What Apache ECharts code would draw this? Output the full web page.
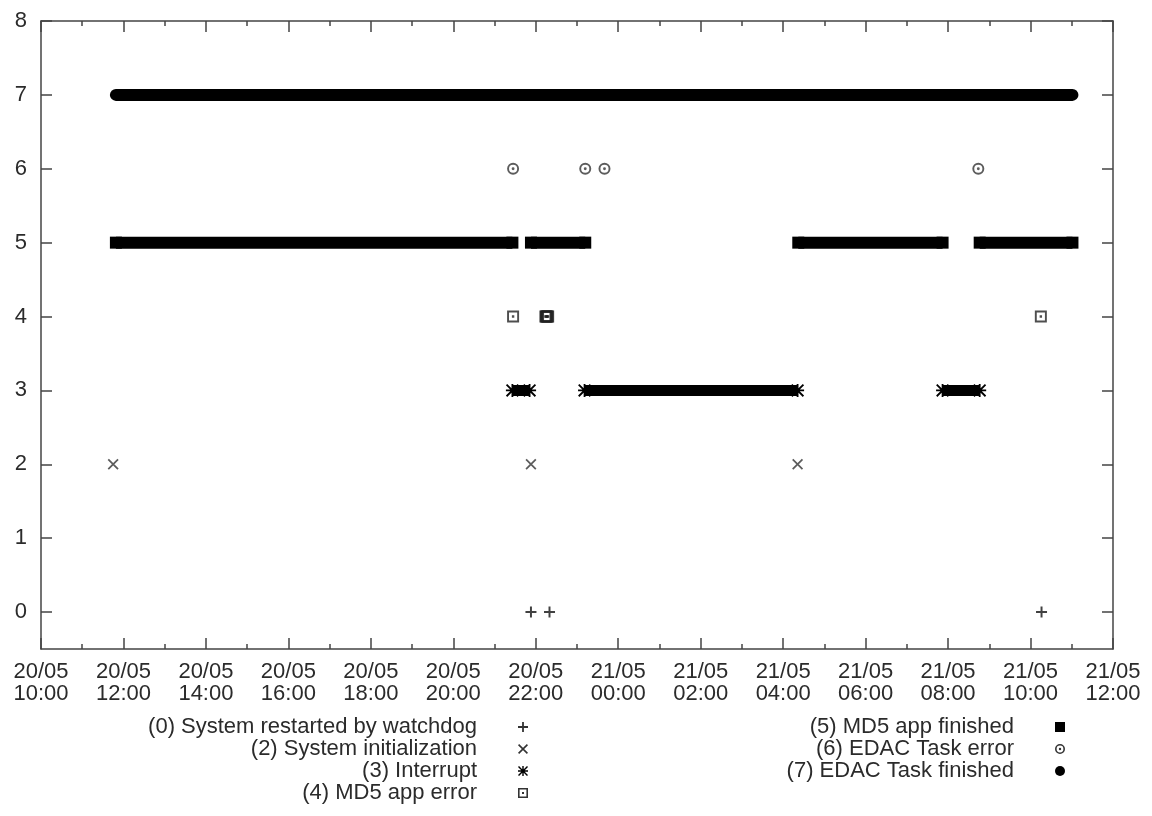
<!DOCTYPE html>
<html>
<head>
<meta charset="utf-8">
<script src="https://cdn.jsdelivr.net/npm/echarts@6/dist/echarts.min.js"></script>
<style>
html,body{margin:0;padding:0;background:#fff;}
#chart{width:1152px;height:816px;}
</style>
</head>
<body>
<div id="chart"></div>
<script>
// ---- data ----
const xStart = '20/05 10:00';
const xEnd = '21/05 12:00';
const yTickValues = [0, 1, 2, 3, 4, 5, 6, 7, 8];

const restartTimes = ['20/05 21:53', '20/05 22:20', '21/05 10:16'];                 // code 0
const initTimes = ['20/05 11:45', '20/05 21:53', '21/05 04:21'];                    // code 2
const interruptSpans = [['20/05 21:26', '20/05 21:51'], ['20/05 23:11', '21/05 04:21'], ['21/05 07:52', '21/05 08:46']]; // code 3
const md5ErrorTimes = ['20/05 21:27', '20/05 22:14', '20/05 22:15', '20/05 22:16', '20/05 22:17', '20/05 22:18', '21/05 10:15']; // code 4
const md5FinishedSpans = [['20/05 11:49', '20/05 21:26'], ['20/05 21:53', '20/05 23:12'], ['21/05 04:22', '21/05 07:52'], ['21/05 08:46', '21/05 11:01']]; // code 5
const edacErrorTimes = ['20/05 21:27', '20/05 23:12', '20/05 23:40', '21/05 08:44']; // code 6
const edacFinishedSpans = [['20/05 11:49', '21/05 11:01']];                          // code 7

const seriesNames = [
  '(0) System restarted by watchdog',
  '(2) System initialization',
  '(3) Interrupt',
  '(4) MD5 app error',
  '(5) MD5 app finished',
  '(6) EDAC Task error',
  '(7) EDAC Task finished'
];
const seriesCodes = [0, 2, 3, 4, 5, 6, 7];

// ---- helpers ----
function T(s) {
  const parts = s.split(' ');
  const dm = parts[0].split('/').map(Number);
  const hm = parts[1].split(':').map(Number);
  return Date.UTC(2009, dm[1] - 1, dm[0], hm[0], hm[1]);
}
function points(times, code) { return times.map(t => [T(t), code]); }
function spans(list, code) {
  const out = [];
  list.forEach(function (s, i) {
    if (i > 0) out.push([T(s[0]), '-']);
    out.push([T(s[0]), code]);
    out.push([T(s[1]), code]);
  });
  return out;
}
function pad(n) { return (n < 10 ? '0' : '') + n; }
function fmtTime(v) {
  const d = new Date(v);
  return pad(d.getUTCDate()) + '/' + pad(d.getUTCMonth() + 1) + '\n' + pad(d.getUTCHours()) + ':' + pad(d.getUTCMinutes());
}

// gnuplot-like point shapes (filled paths, 10x10 box)
const PLUS = 'path://M4.1,0H5.9V4.1H10V5.9H5.9V10H4.1V5.9H0V4.1H4.1Z';
const CROSS = 'path://M1.13,0L10,8.87L8.87,10L0,1.13Z M8.87,0L10,1.13L1.13,10L0,8.87Z';
const STAR = 'path://M4.3,0H5.7V4.3H10V5.7H5.7V10H4.3V5.7H0V4.3H4.3Z M1,0L10,9L9,10L0,1Z M9,0L10,1L1,10L0,9Z';
const BOXDOT = 'path://M0,0H10V10H0Z M1.6,1.6V8.4H8.4V1.6Z M4,4H6V6H4Z';
const SQUARE = 'path://M0,0H10V10H0Z';
const CIRCDOT = 'path://M5,0A5,5,0,1,1,5,10A5,5,0,1,1,5,0Z M5,1.6A3.4,3.4,0,1,0,5,8.4A3.4,3.4,0,1,0,5,1.6Z M5,3.8A1.2,1.2,0,1,1,5,6.2A1.2,1.2,0,1,1,5,3.8Z';
const DISC = 'path://M5,0A5,5,0,1,1,5,10A5,5,0,1,1,5,0Z';

const FONT = '"Liberation Sans", Arial, Helvetica, sans-serif';
const AXIS_COLOR = '#444';
const TEXT_COLOR = '#2b2b2b';

const chart = echarts.init(document.getElementById('chart'), null, {renderer: 'canvas'});

const xMin = T(xStart), xMax = T(xEnd);
const HOUR2 = 2 * 3600 * 1000;

function xAxisCfg(pos, showLabel) {
  return {
    type: 'value', position: pos, min: xMin, max: xMax, interval: HOUR2,
    axisLine: {show: true, onZero: false, lineStyle: {color: AXIS_COLOR, width: 1.5}},
    axisTick: {show: true, inside: true, length: 11, lineStyle: {color: AXIS_COLOR, width: 1.5}},
    minorTick: {show: true, splitNumber: 2, length: 5, lineStyle: {color: AXIS_COLOR, width: 1.5}},
    splitLine: {show: false},
    minorSplitLine: {show: false},
    axisLabel: {show: showLabel, formatter: fmtTime, fontSize: 22, lineHeight: 22, color: TEXT_COLOR, margin: 12, fontFamily: FONT}
  };
}
function yAxisCfg(pos, showLabel) {
  return {
    type: 'value', position: pos, min: -0.5, max: 8,
    axisLine: {show: true, onZero: false, lineStyle: {color: AXIS_COLOR, width: 1.5}},
    axisTick: {show: true, inside: true, length: 11, customValues: yTickValues, lineStyle: {color: AXIS_COLOR, width: 1.5}},
    splitLine: {show: false},
    axisLabel: {show: showLabel, customValues: yTickValues, fontSize: 22, color: TEXT_COLOR, margin: 14, fontFamily: FONT}
  };
}

const legendCommon = {
  orient: 'vertical', align: 'right', itemWidth: 82, itemHeight: 10, itemGap: 0,
  padding: 0, selectedMode: false, symbolKeepAspect: true,
  itemStyle: {color: '#000', borderWidth: 0},
  textStyle: {fontSize: 22, lineHeight: 22, color: TEXT_COLOR, fontFamily: FONT}
};

const option = {
  animation: false,
  backgroundColor: '#fff',
  grid: {left: 41, right: 39, top: 21, bottom: 167, outerBoundsMode: 'none'},
  xAxis: [xAxisCfg('bottom', true), xAxisCfg('top', false)],
  yAxis: [yAxisCfg('left', true), yAxisCfg('right', false)],
  legend: [
    Object.assign({}, legendCommon, {
      right: 624, top: 716,
      data: [
        {name: seriesNames[0], icon: PLUS},
        {name: seriesNames[1], icon: CROSS},
        {name: seriesNames[2], icon: STAR},
        {name: seriesNames[3], icon: BOXDOT}
      ]
    }),
    Object.assign({}, legendCommon, {
      right: 87, top: 716,
      data: [
        {name: seriesNames[4], icon: SQUARE},
        {name: seriesNames[5], icon: CIRCDOT},
        {name: seriesNames[6], icon: DISC}
      ]
    })
  ],
  series: [
    {name: seriesNames[0], type: 'scatter', data: points(restartTimes, seriesCodes[0]),
      symbol: PLUS, symbolSize: 11, itemStyle: {color: '#111'}},
    {name: seriesNames[1], type: 'scatter', data: points(initTimes, seriesCodes[1]),
      symbol: CROSS, symbolSize: 11, itemStyle: {color: '#333'}},
    {name: seriesNames[2], type: 'line', data: spans(interruptSpans, seriesCodes[2]),
      color: '#000', symbol: STAR, symbolSize: 13, showSymbol: true, connectNulls: false,
      lineStyle: {width: 11, color: '#000', cap: 'butt'}, itemStyle: {color: '#000'}},
    {name: seriesNames[3], type: 'scatter', data: points(md5ErrorTimes, seriesCodes[3]),
      symbol: BOXDOT, symbolSize: 12, itemStyle: {color: '#222'}},
    {name: seriesNames[4], type: 'line', data: spans(md5FinishedSpans, seriesCodes[4]),
      color: '#000', symbol: SQUARE, symbolSize: 12, showSymbol: true, connectNulls: false,
      lineStyle: {width: 12, color: '#000', cap: 'butt'}, itemStyle: {color: '#000'}},
    {name: seriesNames[5], type: 'scatter', data: points(edacErrorTimes, seriesCodes[5]),
      symbol: CIRCDOT, symbolSize: 12, itemStyle: {color: '#333'}},
    {name: seriesNames[6], type: 'line', data: spans(edacFinishedSpans, seriesCodes[6]),
      color: '#000', symbol: DISC, symbolSize: 12, showSymbol: true, connectNulls: false,
      lineStyle: {width: 12, color: '#000', cap: 'butt'}, itemStyle: {color: '#000'}}
  ]
};
chart.setOption(option);
</script>
</body>
</html>
